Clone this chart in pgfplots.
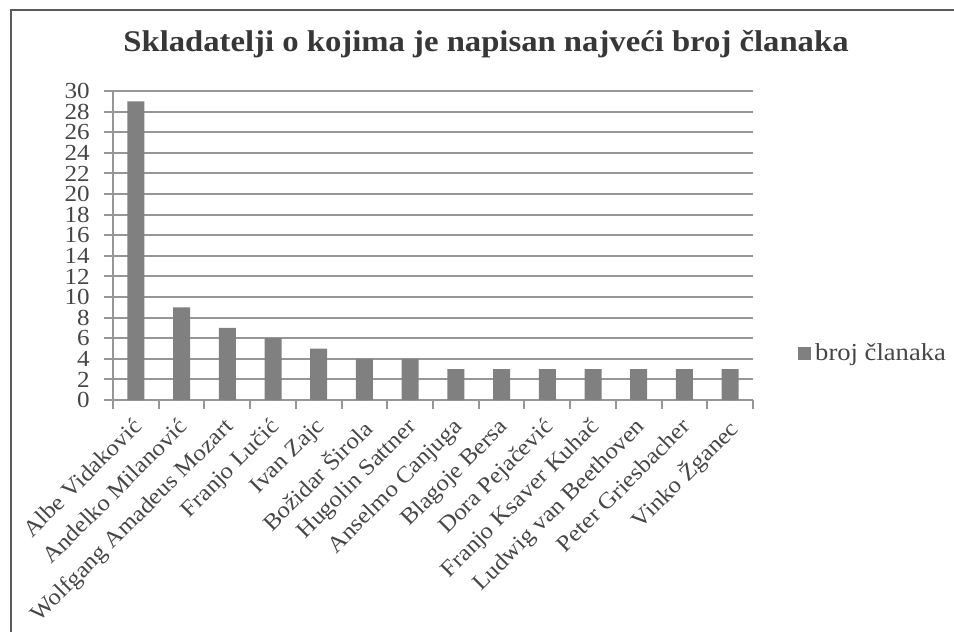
\documentclass[border=0pt]{standalone}
\usepackage{pgfplots}
\pgfplotsset{compat=1.18}
\usepackage{fontspec}
\setmainfont[FakeStretch=1.09]{Liberation Serif}
\definecolor{barc}{RGB}{128,128,128}
\definecolor{gridc}{RGB}{150,150,150}
\definecolor{txt}{RGB}{70,70,70}
\definecolor{titc}{RGB}{55,55,55}
\definecolor{framec}{RGB}{90,90,90}
\begin{document}
\begin{tikzpicture}
\useasboundingbox (0pt,0pt) rectangle (477pt,-316pt);
\draw[line width=1pt, framec] (5.5pt,-316pt) -- (5.5pt,-5pt) -- (477pt,-5pt);
\node[font=\bfseries\fontsize{15}{18}\selectfont, text=titc, anchor=base] at (243pt,-25.5pt) {Skladatelji o kojima je napisan najveći broj članaka};
\begin{axis}[
  at={(56.5pt,-200pt)}, anchor=south west,
  scale only axis, width=320pt, height=154.5pt,
  xmin=-0.5, xmax=13.5, ymin=0, ymax=30,
  axis x line*=bottom, axis y line*=left,
  axis line style={gridc, line width=1pt},
  ytick={0,2,...,30},
  xtick={0,...,13},
  minor xtick={-0.5,0.5,...,13.5},
  xticklabels={Albe Vidaković, Andelko Milanović, Wolfgang Amadeus Mozart, Franjo Lučić, Ivan Zajc, Božidar Širola, Hugolin Sattner, Anselmo Canjuga, Blagoje Bersa, Dora Pejačević, Franjo Ksaver Kuhač, Ludwig van Beethoven, Peter Griesbacher, Vinko Žganec},
  tick align=outside,
  major tick length=4.5pt, minor tick length=4.5pt,
  xtick style={draw=none},
  minor x tick style={draw=gridc, line width=1pt},
  ytick style={gridc, line width=1pt},
  ymajorgrids, grid style={gridc, line width=1pt},
  yticklabel style={font=\fontsize{11.5}{11.5}\selectfont, text=txt, inner sep=1pt, xshift=-6pt},
  xticklabel style={font=\fontsize{11.4}{11.4}\selectfont, text=txt, rotate=45, anchor=north east, inner sep=1pt, xshift=-3pt},
  /pgf/number format/assume math mode=true,
  legend style={at={(1.07,0.149)}, anchor=west, draw=none, fill=none, inner sep=0pt,
    font=\fontsize{12.2}{14}\selectfont, text=txt},
  legend image code/.code={\fill[barc] (0pt,-3.25pt) rectangle (6.5pt,3.25pt);},
]
\addplot[ybar, bar width=8.5pt, fill=barc, draw=none] coordinates {
(0,29) (1,9) (2,7) (3,6) (4,5) (5,4) (6,4) (7,3) (8,3) (9,3) (10,3) (11,3) (12,3) (13,3)};
\addlegendentry{broj članaka}
\end{axis}
\end{tikzpicture}
\end{document}
